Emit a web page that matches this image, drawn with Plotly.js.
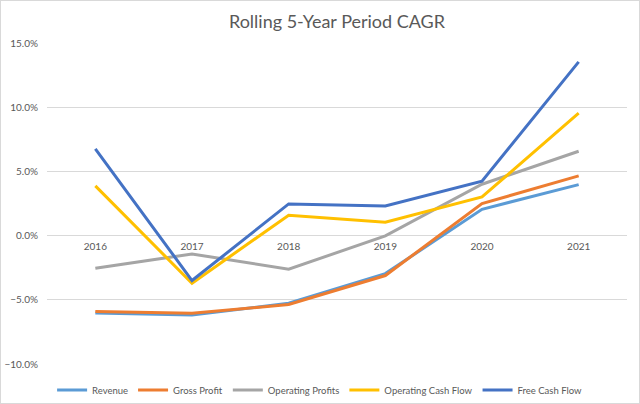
<!DOCTYPE html>
<html>
<head>
<meta charset="utf-8">
<script src="https://cdn.plot.ly/plotly-3.0.1.min.js"></script>
<style>
  body { margin: 0; background: #fff; }
  #chart { width: 640px; height: 404px; box-sizing: border-box; border: 1px solid #D9D9D9; }
</style>
</head>
<body>
<div id="chart"></div>
<script>
var years = ['2016', '2017', '2018', '2019', '2020', '2021'];

var revenue = [-6.02, -6.18, -5.27, -2.96, 2.05, 3.97];
var grossProfit = [-5.92, -6.05, -5.37, -3.11, 2.49, 4.65];
var operatingProfits = [-2.54, -1.43, -2.62, -0.02, 4.0, 6.57];
var operatingCashFlow = [3.87, -3.71, 1.59, 1.04, 3.01, 9.53];
var freeCashFlow = [6.75, -3.5, 2.47, 2.31, 4.24, 13.53];

function serie(name, values, color) {
  return {
    x: years,
    y: values,
    name: name,
    type: 'scatter',
    mode: 'lines',
    line: { color: color, width: 3 },
    hoverinfo: 'x+y+name'
  };
}

var data = [
  serie('Revenue', revenue, '#5B9BD5'),
  serie('Gross Profit', grossProfit, '#ED7D31'),
  serie('Operating Profits', operatingProfits, '#A5A5A5'),
  serie('Operating Cash Flow', operatingCashFlow, '#FFC000'),
  serie('Free Cash Flow', freeCashFlow, '#4472C4')
];

var layout = {
  width: 638,
  height: 402,
  paper_bgcolor: '#fff',
  plot_bgcolor: '#fff',
  font: { family: 'Lato, "Open Sans", sans-serif', color: '#595959', size: 10 },
  title: {
    text: 'Rolling 5-Year Period CAGR',
    font: { size: 18, color: '#595959' },
    x: 0.5,
    xref: 'paper',
    yref: 'container',
    y: 0.948,
    yanchor: 'middle'
  },
  xaxis: {
    type: 'category',
    range: [-0.5, 5.5],
    anchor: 'free',
    position: 0.4,
    showgrid: false,
    showline: false,
    zeroline: false,
    ticks: '',
    ticklabelstandoff: 3,
    tickfont: { size: 10, color: '#595959' }
  },
  yaxis: {
    range: [-10, 15],
    dtick: 5,
    tickformat: '.1f',
    ticksuffix: '%',
    showgrid: true,
    gridcolor: '#D9D9D9',
    gridwidth: 1,
    zeroline: true,
    zerolinecolor: '#D9D9D9',
    zerolinewidth: 1,
    showline: false,
    ticks: '',
    ticklabelstandoff: 8,
    tickfont: { size: 10, color: '#595959' }
  },
  legend: {
    orientation: 'h',
    x: 0.47,
    xanchor: 'center',
    y: -0.081,
    yanchor: 'middle',
    font: { size: 9.5, color: '#595959' },
    itemwidth: 30
  },
  margin: { l: 46, r: 12, t: 42, b: 39, pad: 0, autoexpand: false }
};

var config = { displayModeBar: false };

Plotly.newPlot('chart', data, layout, config);
</script>
</body>
</html>
